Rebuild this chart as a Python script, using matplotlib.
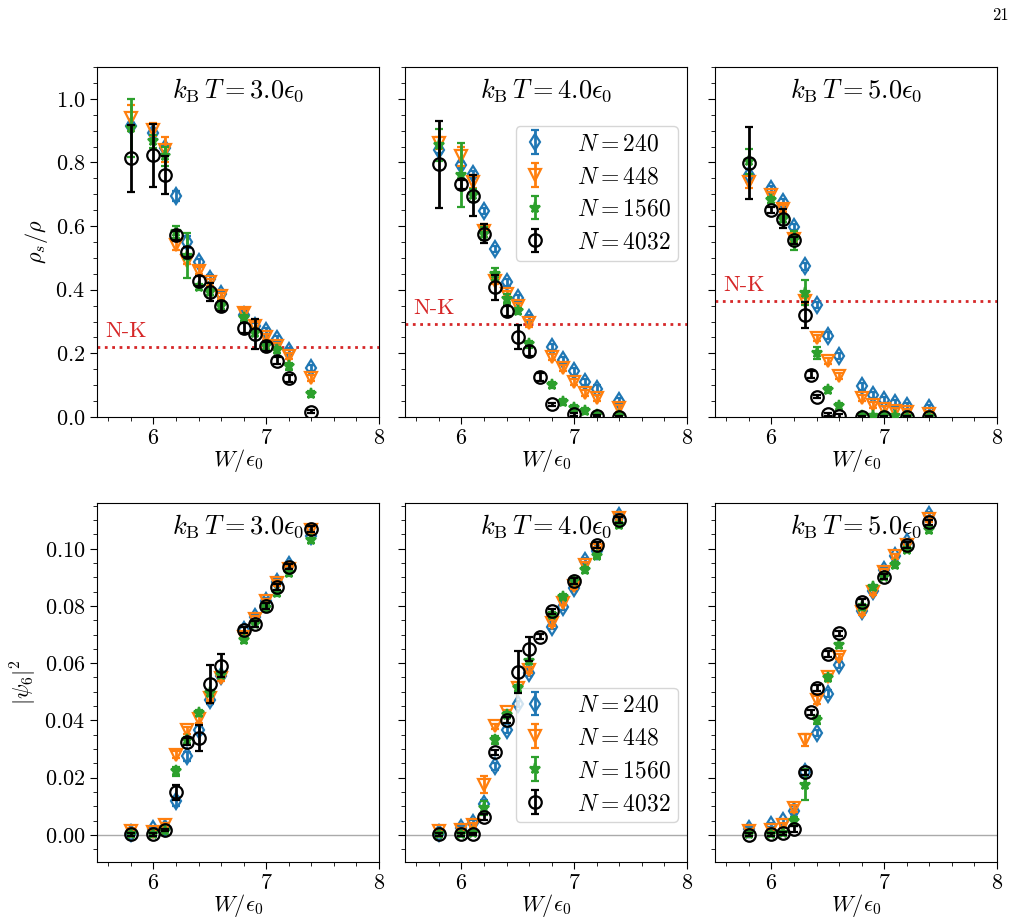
import matplotlib
matplotlib.use("Agg")
import matplotlib.pyplot as plt
from matplotlib.ticker import AutoMinorLocator, MultipleLocator

plt.rcParams['mathtext.fontset'] = 'cm'
plt.rcParams['font.family'] = 'serif'
plt.rcParams['font.serif'] = ['cmr10', 'DejaVu Serif']
plt.rcParams['axes.formatter.use_mathtext'] = True

# ---------------- data ----------------
temps = [3.0, 4.0, 5.0]
sizes = [240, 448, 1560, 4032]
W = [5.8, 6.0, 6.1, 6.2, 6.3, 6.4, 6.5, 6.6, 6.8, 6.9, 7.0, 7.1, 7.2, 7.4]
W_T3_N4032 = [5.8, 6.0, 6.1, 6.2, 6.3, 6.4, 6.5, 6.6, 6.8, 6.9, 7.0, 7.1, 7.2, 7.4]
W_T4_N4032 = [5.8, 6.0, 6.1, 6.2, 6.3, 6.4, 6.5, 6.6, 6.7, 6.8, 7.0, 7.2, 7.4]
W_T5_N4032 = [5.8, 6.0, 6.1, 6.2, 6.3, 6.35, 6.4, 6.5, 6.6, 6.8, 7.0, 7.2, 7.4]

# superfluid fraction rho_s/rho
rho_T3_N240 = [0.914, 0.892, 0.845, 0.694, 0.55, 0.486, 0.435, 0.386, 0.32, 0.286, 0.27, 0.246, 0.207, 0.154]
rho_T3_N448 = [0.94, 0.903, 0.84, 0.539, 0.49, 0.46, 0.423, 0.38, 0.328, 0.287, 0.252, 0.222, 0.191, 0.122]
rho_T3_N1560 = [0.908, 0.866, 0.819, 0.581, 0.507, 0.409, 0.393, 0.349, 0.312, 0.265, 0.222, 0.21, 0.159, 0.072]
rho_T3_N4032 = [0.813, 0.822, 0.76, 0.571, 0.518, 0.428, 0.393, 0.349, 0.28, 0.262, 0.222, 0.177, 0.121, 0.017]
rho_err_T3_N240 = [0.01, 0.01, 0.01, 0.015, 0.02, 0.01, 0.01, 0.01, 0.01, 0.01, 0.01, 0.01, 0.01, 0.01]
rho_err_T3_N448 = [0.04, 0.02, 0.04, 0.015, 0.01, 0.01, 0.01, 0.01, 0.01, 0.01, 0.01, 0.01, 0.01, 0.01]
rho_err_T3_N1560 = [0.09, 0.02, 0.03, 0.02, 0.07, 0.01, 0.01, 0.01, 0.01, 0.01, 0.01, 0.01, 0.01, 0.01]
rho_err_T3_N4032 = [0.105, 0.1, 0.06, 0.015, 0.015, 0.015, 0.027, 0.015, 0.015, 0.047, 0.015, 0.01, 0.01, 0.005]

rho_T4_N240 = [0.84, 0.792, 0.763, 0.647, 0.528, 0.423, 0.373, 0.312, 0.22, 0.178, 0.143, 0.109, 0.089, 0.05]
rho_T4_N448 = [0.861, 0.819, 0.739, 0.586, 0.428, 0.386, 0.349, 0.294, 0.188, 0.154, 0.109, 0.075, 0.059, 0.027]
rho_T4_N1560 = [0.855, 0.76, 0.697, 0.576, 0.449, 0.37, 0.333, 0.228, 0.101, 0.048, 0.027, 0.018, 0.005, 0.003]
rho_T4_N4032 = [0.794, 0.731, 0.695, 0.576, 0.407, 0.333, 0.252, 0.207, 0.126, 0.04, 0.008, 0.002, 0.001]
rho_err_T4_N240 = [0.01, 0.01, 0.01, 0.01, 0.01, 0.01, 0.01, 0.01, 0.01, 0.01, 0.01, 0.01, 0.01, 0.01]
rho_err_T4_N448 = [0.02, 0.03, 0.02, 0.02, 0.01, 0.01, 0.01, 0.01, 0.01, 0.01, 0.01, 0.01, 0.01, 0.01]
rho_err_T4_N1560 = [0.05, 0.1, 0.02, 0.02, 0.02, 0.015, 0.01, 0.01, 0.01, 0.01, 0.01, 0.01, 0.005, 0.005]
rho_err_T4_N4032 = [0.137, 0.015, 0.064, 0.03, 0.04, 0.015, 0.037, 0.015, 0.012, 0.005, 0.005, 0.003, 0.003]

rho_T5_N240 = [0.76, 0.716, 0.676, 0.597, 0.473, 0.351, 0.256, 0.191, 0.096, 0.07, 0.054, 0.043, 0.035, 0.027]
rho_T5_N448 = [0.739, 0.697, 0.655, 0.56, 0.365, 0.249, 0.175, 0.128, 0.059, 0.038, 0.025, 0.018, 0.015, 0.01]
rho_T5_N1560 = [0.803, 0.681, 0.623, 0.555, 0.391, 0.201, 0.085, 0.033, 0.003, 0.003, 0.002, 0.002, 0.001, 0.001]
rho_T5_N4032 = [0.797, 0.65, 0.623, 0.555, 0.32, 0.133, 0.064, 0.008, 0.003, 0.001, 0.001, 0.001, 0.001]
rho_err_T5_N240 = [0.02, 0.01, 0.01, 0.01, 0.01, 0.01, 0.01, 0.01, 0.01, 0.01, 0.01, 0.01, 0.01, 0.01]
rho_err_T5_N448 = [0.02, 0.01, 0.01, 0.01, 0.01, 0.01, 0.01, 0.01, 0.01, 0.01, 0.01, 0.01, 0.01, 0.01]
rho_err_T5_N1560 = [0.04, 0.01, 0.01, 0.03, 0.04, 0.02, 0.01, 0.01, 0.005, 0.005, 0.005, 0.005, 0.005, 0.005]
rho_err_T5_N4032 = [0.113, 0.01, 0.03, 0.01, 0.04, 0.01, 0.005, 0.005, 0.005, 0.003, 0.003, 0.003, 0.003]

nk_values = [0.219, 0.291, 0.363]

# hexatic order |psi_6|^2
psi_T3_N240 = [0.0008, 0.002, 0.0025, 0.0117, 0.0274, 0.0367, 0.0472, 0.0555, 0.0717, 0.0763, 0.0818, 0.0885, 0.0945, 0.1043]
psi_T3_N448 = [0.0015, 0.001, 0.0035, 0.028, 0.0365, 0.0404, 0.0478, 0.0548, 0.0693, 0.0755, 0.0816, 0.088, 0.093, 0.1065]
psi_T3_N1560 = [0.0003, 0.0003, 0.0015, 0.0222, 0.033, 0.0425, 0.0495, 0.056, 0.0682, 0.0738, 0.0793, 0.0845, 0.0915, 0.1029]
psi_T3_N4032 = [0.0002, 0.0002, 0.0017, 0.0148, 0.0326, 0.0338, 0.0528, 0.0591, 0.0717, 0.0738, 0.0801, 0.0866, 0.0938, 0.1069]
psi_err_T3_N240 = [0.0008, 0.0008, 0.0008, 0.0015, 0.0015, 0.0015, 0.0015, 0.001, 0.001, 0.001, 0.001, 0.001, 0.001, 0.001]
psi_err_T3_N448 = [0.0008, 0.0008, 0.0008, 0.0012, 0.0012, 0.0012, 0.001, 0.001, 0.001, 0.001, 0.001, 0.001, 0.001, 0.001]
psi_err_T3_N1560 = [0.0005, 0.0005, 0.0005, 0.0015, 0.0012, 0.001, 0.001, 0.001, 0.001, 0.001, 0.001, 0.001, 0.001, 0.001]
psi_err_T3_N4032 = [0.0005, 0.0005, 0.0005, 0.0025, 0.0012, 0.0045, 0.0066, 0.004, 0.001, 0.001, 0.001, 0.001, 0.001, 0.001]

psi_T4_N240 = [0.0008, 0.0023, 0.0043, 0.0108, 0.0239, 0.0367, 0.0458, 0.0565, 0.0728, 0.0796, 0.0863, 0.0956, 0.0991, 0.1113]
psi_T4_N448 = [0.0012, 0.0017, 0.0035, 0.0175, 0.0379, 0.0428, 0.0513, 0.0575, 0.074, 0.0812, 0.087, 0.0945, 0.0995, 0.1108]
psi_T4_N1560 = [0.0003, 0.0003, 0.0005, 0.0093, 0.0332, 0.042, 0.0513, 0.0606, 0.077, 0.0833, 0.0888, 0.0927, 0.0976, 0.1084]
psi_T4_N4032 = [0.0002, 0.0002, 0.0003, 0.0062, 0.0288, 0.0402, 0.0569, 0.0649, 0.0693, 0.0781, 0.0888, 0.1014, 0.1101]
psi_err_T4_N240 = [0.0008, 0.0008, 0.0008, 0.0015, 0.0012, 0.001, 0.001, 0.001, 0.001, 0.001, 0.001, 0.001, 0.001, 0.001]
psi_err_T4_N448 = [0.0008, 0.0008, 0.0008, 0.003, 0.001, 0.001, 0.001, 0.001, 0.001, 0.001, 0.001, 0.001, 0.001, 0.001]
psi_err_T4_N1560 = [0.0005, 0.0005, 0.0005, 0.0025, 0.0015, 0.001, 0.001, 0.001, 0.001, 0.001, 0.001, 0.001, 0.001, 0.001]
psi_err_T4_N4032 = [0.0005, 0.0005, 0.0005, 0.001, 0.001, 0.001, 0.0073, 0.0043, 0.001, 0.001, 0.001, 0.001, 0.001]

psi_T5_N240 = [0.0021, 0.0035, 0.0047, 0.0082, 0.0218, 0.0355, 0.0493, 0.0594, 0.0781, 0.0854, 0.0925, 0.0973, 0.1025, 0.1119]
psi_T5_N448 = [0.0012, 0.0017, 0.0035, 0.0093, 0.0332, 0.0472, 0.0553, 0.0623, 0.078, 0.085, 0.092, 0.0973, 0.1012, 0.1105]
psi_T5_N1560 = [0.0003, 0.0003, 0.0005, 0.0047, 0.0175, 0.0402, 0.0548, 0.0662, 0.0797, 0.0865, 0.0903, 0.0944, 0.0997, 0.1066]
psi_T5_N4032 = [0.0001, 0.0002, 0.0005, 0.002, 0.0218, 0.0428, 0.0513, 0.0631, 0.0704, 0.0813, 0.0903, 0.1012, 0.1092]
psi_err_T5_N240 = [0.0008, 0.0008, 0.0008, 0.001, 0.001, 0.001, 0.0012, 0.001, 0.001, 0.001, 0.001, 0.001, 0.001, 0.001]
psi_err_T5_N448 = [0.0008, 0.0008, 0.0008, 0.0012, 0.002, 0.0015, 0.001, 0.001, 0.001, 0.001, 0.001, 0.001, 0.001, 0.001]
psi_err_T5_N1560 = [0.0005, 0.0005, 0.0005, 0.0015, 0.0055, 0.0015, 0.001, 0.001, 0.001, 0.001, 0.001, 0.001, 0.001, 0.001]
psi_err_T5_N4032 = [0.0005, 0.0005, 0.0005, 0.001, 0.001, 0.001, 0.001, 0.001, 0.001, 0.001, 0.001, 0.001, 0.001]

# ---------------- assemble ----------------
rho = {
    3.0: [(W, rho_T3_N240, rho_err_T3_N240), (W, rho_T3_N448, rho_err_T3_N448),
          (W, rho_T3_N1560, rho_err_T3_N1560), (W_T3_N4032, rho_T3_N4032, rho_err_T3_N4032)],
    4.0: [(W, rho_T4_N240, rho_err_T4_N240), (W, rho_T4_N448, rho_err_T4_N448),
          (W, rho_T4_N1560, rho_err_T4_N1560), (W_T4_N4032, rho_T4_N4032, rho_err_T4_N4032)],
    5.0: [(W, rho_T5_N240, rho_err_T5_N240), (W, rho_T5_N448, rho_err_T5_N448),
          (W, rho_T5_N1560, rho_err_T5_N1560), (W_T5_N4032, rho_T5_N4032, rho_err_T5_N4032)],
}
psi = {
    3.0: [(W, psi_T3_N240, psi_err_T3_N240), (W, psi_T3_N448, psi_err_T3_N448),
          (W, psi_T3_N1560, psi_err_T3_N1560), (W_T3_N4032, psi_T3_N4032, psi_err_T3_N4032)],
    4.0: [(W, psi_T4_N240, psi_err_T4_N240), (W, psi_T4_N448, psi_err_T4_N448),
          (W, psi_T4_N1560, psi_err_T4_N1560), (W_T4_N4032, psi_T4_N4032, psi_err_T4_N4032)],
    5.0: [(W, psi_T5_N240, psi_err_T5_N240), (W, psi_T5_N448, psi_err_T5_N448),
          (W, psi_T5_N1560, psi_err_T5_N1560), (W_T5_N4032, psi_T5_N4032, psi_err_T5_N4032)],
}

colors = ['#1f77b4', '#ff7f0e', '#2ca02c', 'black']
markers = ['d', 'v', '*', 'o']
mfcs = ['none', 'none', '#2ca02c', 'none']
msizes = [8, 9, 8, 9]

fig = plt.figure(figsize=(10.23, 9.21), dpi=100)
W_px, H_px = 1023, 921
lefts = [97, 405, 715]
width = 282
top_row = (67, 417)
bot_row = (503, 862)

FS = 16     # axis labels
TFS = 16    # tick labels
TTL = 19    # panel titles
LFS = 17    # legend

legend_kw = dict(borderaxespad=0, fontsize=LFS, handlelength=1.0,
                 handletextpad=1.3, borderpad=0.3, labelspacing=0.45)

def make_ax(left, row):
    t, b = row
    return fig.add_axes([left / W_px, 1 - b / H_px, width / W_px, (b - t) / H_px])

for j, T in enumerate(temps):
    for r, (row, data, ylab) in enumerate([(top_row, rho, r'$\rho_s/\rho$'),
                                          (bot_row, psi, r'$|\psi_6|^2$')]):
        ax = make_ax(lefts[j], row)
        for k, N in enumerate(sizes):
            x, y, e = data[T][k]
            ax.errorbar(x, y, yerr=e, fmt=markers[k], color=colors[k], mfc=mfcs[k],
                        mec=colors[k], ms=msizes[k], mew=1.6, elinewidth=2.0,
                        capsize=3, capthick=1.6, label=rf'$N = {N}$', zorder=3 + k)
        ax.set_xlim(5.5, 8)
        ax.xaxis.set_major_locator(MultipleLocator(1))
        ax.xaxis.set_minor_locator(AutoMinorLocator())
        ax.yaxis.set_minor_locator(AutoMinorLocator())
        ax.set_xlabel(r'$W/\epsilon_0$', fontsize=FS, labelpad=-1)
        ax.tick_params(labelsize=TFS, length=5)
        ax.tick_params(which='minor', length=3)
        title = r'$k_\mathrm{B}\,T = ' + f'{T:.1f}' + r'\epsilon_0$'
        ax.text(0.5, 0.935, title, transform=ax.transAxes, ha='center',
                va='center', fontsize=TTL)
        if r == 0:
            ax.set_ylim(0, 1.1)
            ax.yaxis.set_major_locator(MultipleLocator(0.2))
            ax.axhline(nk_values[j], color='#d62728', ls=':', lw=2, zorder=2)
            ax.text(5.57, nk_values[j] + 0.02, 'N-K', color='#d62728',
                    fontsize=16, ha='left', va='bottom')
            if j == 1:
                ax.legend(loc='upper right', bbox_to_anchor=(0.968, 0.831), **legend_kw)
        else:
            ax.set_ylim(-0.0095, 0.116)
            ax.yaxis.set_major_locator(MultipleLocator(0.02))
            ax.axhline(0, color='#aaaaaa', lw=1, zorder=1)
            if j == 1:
                ax.legend(loc='lower right', bbox_to_anchor=(0.968, 0.111), **legend_kw)
        if j == 0:
            ax.set_ylabel(ylab, fontsize=FS)
        else:
            ax.tick_params(labelleft=False)

fig.text(1000 / W_px, 1 - 15 / H_px, '21', ha='center', va='center', fontsize=12)

fig.savefig('out.png', dpi=100)
